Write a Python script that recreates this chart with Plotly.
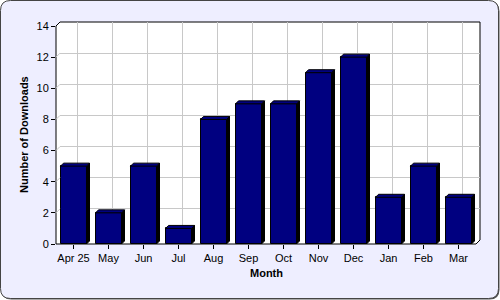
import plotly.graph_objects as go

# ---- data ----
months = ["Apr 25", "May", "Jun", "Jul", "Aug", "Sep", "Oct", "Nov", "Dec", "Jan", "Feb", "Mar"]
downloads = [5, 2, 5, 1, 8, 9, 9, 11, 12, 3, 5, 3]
y_ticks = [0, 2, 4, 6, 8, 10, 12, 14]
x_title = "Month"
y_title = "Number of Downloads"

# ---- geometry (pixels) ----
W, H = 500, 300
FL, FT, FW, FH = 56, 26, 420, 218   # front plot area
D = 4                                # wall depth
BD = 3                               # bar depth
PL, PT = FL, FT - D
PW, PH = FW + D, FH + D
ML, MT, MR, MB = PL, PT, W - (PL + PW), H - (PT + PH)

def X(p):
    return (p - PL) / PW

def Y(q):
    return (PT + PH - q) / PH

idx = list(range(len(months)))
ymax = y_ticks[-1]
px_x = FW / len(months)
px_y = FH / ymax
bw = 26 / px_x
dxu, dyu = BD / px_x, BD / px_y

fig = go.Figure()

# invisible trace to create the back-wall subplot
fig.add_trace(go.Scatter(x=idx, y=downloads, mode="markers", marker=dict(opacity=0),
                         hoverinfo="skip", showlegend=False, xaxis="x", yaxis="y"))

# front bars
fig.add_trace(go.Bar(x=idx, y=downloads, width=bw, marker=dict(color="#000080", line=dict(color="black", width=1)),
                     showlegend=False, xaxis="x2", yaxis="y2", hoverinfo="skip"))

# side faces
sx, sy = [], []
tx, ty = [], []
for i, v in zip(idx, downloads):
    r = i + bw / 2
    l = i - bw / 2
    sx += [r, r + dxu, r + dxu, r, r, None]
    sy += [0, dyu, v + dyu, v, 0, None]
    tx += [l, l + dxu, r + dxu, r, l, None]
    ty += [v, v + dyu, v + dyu, v, v, None]
fig.add_trace(go.Scatter(x=sx, y=sy, mode="lines", fill="toself", fillcolor="black",
                         line=dict(color="black", width=1), showlegend=False, hoverinfo="skip",
                         xaxis="x2", yaxis="y2", cliponaxis=False))
fig.add_trace(go.Scatter(x=tx, y=ty, mode="lines", fill="toself", fillcolor="#000080",
                         line=dict(color="black", width=1), showlegend=False, hoverinfo="skip",
                         xaxis="x2", yaxis="y2", cliponaxis=False))

# diagonal connectors from y ticks to wall
cx, cy = [], []
for v in y_ticks[1:-1]:
    cx += [-0.5, -0.5 + D / px_x, None]
    cy += [v, v + D / px_y, None]
fig.add_trace(go.Scatter(x=cx, y=cy, mode="lines", line=dict(color="#c8c8c8", width=1),
                         showlegend=False, hoverinfo="skip", xaxis="x2", yaxis="y2", cliponaxis=False))

def rrect(x0, y0, x1, y1, r):
    return (f"M {X(x0 + r)} {Y(y0)} L {X(x1 - r)} {Y(y0)} Q {X(x1)} {Y(y0)} {X(x1)} {Y(y0 + r)} "
            f"L {X(x1)} {Y(y1 - r)} Q {X(x1)} {Y(y1)} {X(x1 - r)} {Y(y1)} "
            f"L {X(x0 + r)} {Y(y1)} Q {X(x0)} {Y(y1)} {X(x0)} {Y(y1 - r)} "
            f"L {X(x0)} {Y(y0 + r)} Q {X(x0)} {Y(y0)} {X(x0 + r)} {Y(y0)} Z")

shapes = [
    dict(type="path", xref="paper", yref="paper", path=rrect(1.5, 1.5, 499.5, 299.5, 10),
         fillcolor="#555555", line=dict(width=0), layer="below"),
    dict(type="path", xref="paper", yref="paper", path=rrect(0.5, 0.5, 498.5, 298.5, 10),
         fillcolor="#eeeeff", line=dict(color="#444444", width=1), layer="below"),
    dict(type="path", xref="paper", yref="paper",
         path=(f"M {X(FL)} {Y(FT + FH)} L {X(FL)} {Y(FT)} L {X(FL + D)} {Y(FT - D)} "
               f"L {X(FL + FW + D)} {Y(FT - D)} L {X(FL + FW + D)} {Y(FT + FH - D)} "
               f"L {X(FL + FW)} {Y(FT + FH)} Z"),
         fillcolor="white", line=dict(color="black", width=1), layer="below"),
]

font = dict(family="Liberation Sans, Arial, sans-serif", size=11, color="black")

fig.update_layout(
    width=W, height=H,
    margin=dict(l=ML, r=MR, t=MT, b=MB, pad=0),
    paper_bgcolor="white", plot_bgcolor="rgba(0,0,0,0)",
    font=font, bargap=0, showlegend=False,
    shapes=shapes,
    xaxis=dict(domain=[D / PW, 1], range=[-0.5, len(months) - 0.5], tickvals=idx, showgrid=True,
               gridcolor="#c8c8c8", gridwidth=1, showticklabels=False, ticks="", zeroline=False,
               showline=False, fixedrange=True),
    yaxis=dict(domain=[D / PH, 1], range=[0, ymax], tickvals=y_ticks[1:], showgrid=True,
               gridcolor="#c8c8c8", gridwidth=1, showticklabels=False, ticks="", zeroline=False,
               showline=False, fixedrange=True),
    xaxis2=dict(domain=[0, FW / PW], anchor="y2", range=[-0.5, len(months) - 0.5], tickvals=idx,
                ticktext=months, ticks="outside", ticklen=4, tickcolor="black", showgrid=False,
                zeroline=False, showline=False, fixedrange=True, tickfont=font),
    yaxis2=dict(domain=[0, FH / PH], anchor="x2", range=[0, ymax], tickvals=y_ticks,
                ticks="outside", ticklen=4, tickcolor="black", showgrid=False,
                zeroline=False, showline=False, fixedrange=True, tickfont=font),
    annotations=[
        dict(text=f"<b>{x_title}</b>", xref="paper", yref="paper", x=X(FL + FW / 2), y=Y(272.5),
             showarrow=False, xanchor="center", yanchor="middle", font=font),
        dict(text=f"<b>{y_title}</b>", xref="paper", yref="paper", x=X(24), y=Y(FT + FH / 2),
             showarrow=False, xanchor="center", yanchor="middle", textangle=-90, font=font),
    ],
)

fig.write_html("out.html")
